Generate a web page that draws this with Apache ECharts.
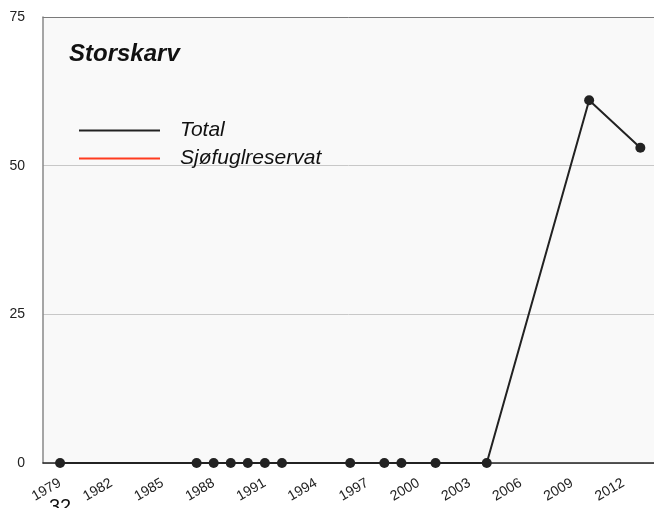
<!DOCTYPE html>
<html>
<head>
<meta charset="utf-8">
<script src="https://cdn.jsdelivr.net/npm/echarts@6/dist/echarts.min.js"></script>
<style>
html,body{margin:0;padding:0;background:#fff;}
#chart{width:654px;height:508px;}
</style>
</head>
<body>
<div id="chart"></div>
<script>
var years = [1979, 1987, 1988, 1989, 1990, 1991, 1992, 1996, 1998, 1999, 2001, 2004, 2010, 2013];
var totalValues = [0, 0, 0, 0, 0, 0, 0, 0, 0, 0, 0, 0, 61, 53];
var reserveValues = [];
var xTickLabels = [1979, 1982, 1985, 1988, 1991, 1994, 1997, 2000, 2003, 2006, 2009, 2012];
var yTicks = [0, 25, 50, 75];
var titleText = 'Storskarv';
var strayText = '32';

var chart = echarts.init(document.getElementById('chart'), null, {renderer: 'canvas'});
var font = 'Liberation Sans, Arial, Helvetica, sans-serif';
chart.setOption({
  animation: false,
  backgroundColor: '#ffffff',
  textStyle: {fontFamily: font},
  grid: {left: 43, top: 17, right: 0, bottom: 45, show: true, backgroundColor: '#f9f9f9', borderWidth: 0},
  title: {
    text: titleText, left: 64, top: 37,
    textStyle: {fontFamily: font, fontSize: 24, fontWeight: 'bold', fontStyle: 'italic', color: '#111'}
  },
  legend: {
    orient: 'vertical', left: 74, top: 115, itemGap: 7,
    icon: 'rect', itemWidth: 81, itemHeight: 2,
    textStyle: {fontFamily: font, fontSize: 21, fontStyle: 'italic', color: '#111', padding: [0, 0, 0, 15]},
    data: ['Total', 'Sjøfuglreservat']
  },
  xAxis: [{
    type: 'value', min: 1978, max: 2013.8,
    axisLine: {show: true, onZero: false, lineStyle: {color: '#222', width: 1.5}},
    axisTick: {show: false},
    splitLine: {show: false},
    axisLabel: {
      customValues: xTickLabels, rotate: 30, fontSize: 14, color: '#222', margin: 19,
      formatter: function (v) { return String(v); }
    }
  }, {
    type: 'value', position: 'top', min: 1978, max: 2013.8,
    axisLine: {show: true, onZero: false, lineStyle: {color: '#7a7a7a', width: 1}},
    axisTick: {show: false}, axisLabel: {show: false}, splitLine: {show: false}
  }],
  yAxis: {
    type: 'value', min: yTicks[0], max: yTicks[yTicks.length - 1], interval: 25,
    axisLine: {show: true, lineStyle: {color: '#888', width: 1.5}},
    axisTick: {show: false},
    splitLine: {show: true, lineStyle: {color: '#c8c8c8', width: 1}},
    axisLabel: {fontSize: 14, color: '#222', margin: 18}
  },
  graphic: [{
    type: 'text', left: 49, top: 497, z: 100,
    style: {text: strayText, fontSize: 20, fontFamily: font, fill: '#111'}
  }],
  series: [{
    name: 'Total', type: 'line',
    data: years.map(function (y, i) { return [y, totalValues[i]]; }),
    symbol: 'circle', symbolSize: 10,
    lineStyle: {color: '#222', width: 2},
    itemStyle: {color: '#222'},
    color: '#111'
  }, {
    name: 'Sjøfuglreservat', type: 'line',
    data: reserveValues,
    symbol: 'circle', symbolSize: 10,
    lineStyle: {color: '#ff3b1f', width: 2},
    itemStyle: {color: '#ff3b1f'},
    color: '#ff3b1f'
  }]
});
</script>
</body>
</html>
